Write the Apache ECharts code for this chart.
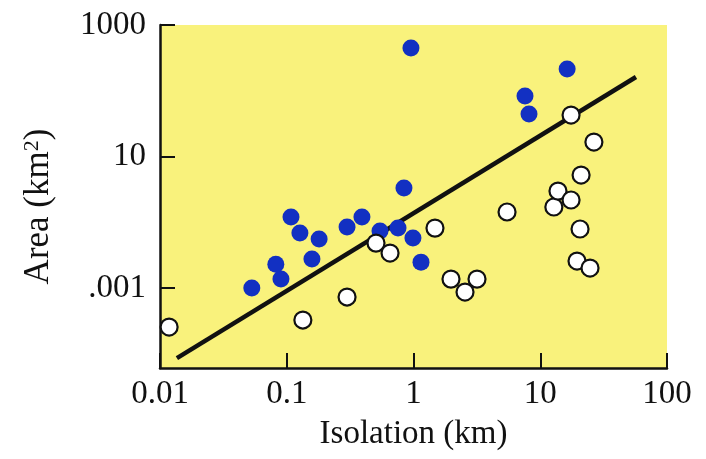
<!DOCTYPE html>
<html>
<head>
<meta charset="utf-8">
<title>Island area vs isolation</title>
<script src="https://cdn.jsdelivr.net/npm/echarts@6/dist/echarts.min.js"></script>
<style>
  html, body { margin: 0; padding: 0; background: #ffffff; }
  #chart { width: 706px; height: 459px; }
</style>
</head>
<body>
<div id="chart"></div>
<script>
// Islands with the species present (filled) — isolation (km) and area (km²)
const occupiedIsolation = [0.053, 0.090, 0.082, 0.108, 0.127, 0.158, 0.180, 0.299, 0.392,
  0.544, 0.755, 0.841, 0.99, 1.146, 0.955, 7.58, 8.15, 16.3];
const occupiedArea = [0.001, 0.0016, 0.0035, 0.0416, 0.018, 0.00458, 0.0131, 0.0246, 0.0416,
  0.020, 0.0233, 0.191, 0.0138, 0.0039, 298, 24.0, 9.31, 99];

// Islands without the species (open)
const emptyIsolation = [0.0118, 0.134, 0.299, 0.506, 0.653, 1.477, 1.976, 2.549, 3.17, 5.47,
  12.8, 13.8, 17.5, 21.0, 26.5, 17.5, 20.6, 19.5, 24.7];
const emptyArea = [0.000129, 0.000186, 0.000622, 0.0106, 0.00628, 0.0233, 0.0016, 0.00081, 0.0016,
  0.0542, 0.0705, 0.163, 0.102, 0.378, 2.14, 8.84, 0.0222, 0.00413, 0.00286];

// Fitted boundary line, end points
const boundaryIsolation = [0.0136, 56.9];
const boundaryArea = [0.0000253, 65.1];

// Axis ticks
const xTickValues = [0.01, 0.1, 1, 10, 100];
const xTickLabels = ['0.01', '0.1', '1', '10', '100'];
const yTickValues = [0.001, 1, 1000];
const yTickLabels = ['.001', '10', '1000'];
const yRange = [0.000015, 1000];

const lg = Math.log10;
const pairs = (xs, ys) => xs.map((x, i) => [x, lg(ys[i])]);

const FONT = '"Liberation Serif", "DejaVu Serif", serif';

const chart = echarts.init(document.getElementById('chart'), null, { renderer: 'canvas' });

chart.setOption({
  backgroundColor: '#ffffff',
  animation: false,
  grid: {
    left: 160, right: 39, top: 25, bottom: 91,
    show: true,
    backgroundColor: '#f9f27c',
    borderWidth: 0
  },
  xAxis: {
    type: 'log',
    logBase: 10,
    min: xTickValues[0],
    max: xTickValues[xTickValues.length - 1],
    name: 'Isolation (km)',
    nameLocation: 'middle',
    nameGap: 50,
    nameTextStyle: { fontFamily: FONT, fontSize: 33, color: '#111' },
    axisLine: { show: true, onZero: false, lineStyle: { color: '#111', width: 2.5 } },
    axisTick: { show: true, inside: true, length: 15, lineStyle: { color: '#111', width: 2 } },
    minorTick: { show: false },
    splitLine: { show: false },
    axisLabel: {
      fontFamily: FONT, fontSize: 33, color: '#111', margin: 10,
      showMinLabel: true, showMaxLabel: true,
      formatter: (v) => {
        const i = xTickValues.findIndex(t => Math.abs(lg(t) - lg(v)) < 1e-6);
        return i >= 0 ? xTickLabels[i] : '';
      }
    }
  },
  yAxis: {
    type: 'value',
    min: lg(yRange[0]),
    max: lg(yRange[1]),
    name: 'Area (km{sup|2})',
    nameLocation: 'middle',
    nameGap: 104,
    nameTextStyle: {
      fontFamily: FONT, fontSize: 35, color: '#111',
      padding: [0, 20, 0, 0],
      rich: {
        sup: { fontFamily: FONT, fontSize: 22, color: '#111', verticalAlign: 'top', lineHeight: 35 }
      }
    },
    axisLine: { show: true, onZero: false, lineStyle: { color: '#111', width: 2.5 } },
    axisTick: {
      show: true, inside: true, length: 15,
      customValues: yTickValues.map(lg),
      lineStyle: { color: '#111', width: 2 }
    },
    splitLine: { show: false },
    axisLabel: {
      fontFamily: FONT, fontSize: 33, color: '#111', margin: 14,
      customValues: yTickValues.map(lg),
      formatter: (v) => {
        const i = yTickValues.findIndex(t => Math.abs(lg(t) - v) < 1e-6);
        return i >= 0 ? yTickLabels[i] : '';
      }
    }
  },
  series: [
    {
      type: 'line',
      data: pairs(boundaryIsolation, boundaryArea),
      symbol: 'none',
      lineStyle: { color: '#111', width: 4.5 },
      z: 1
    },
    {
      type: 'scatter',
      data: pairs(occupiedIsolation, occupiedArea),
      symbol: 'circle',
      symbolSize: 17,
      itemStyle: { color: '#1230c2', borderWidth: 0, opacity: 1 },
      z: 3
    },
    {
      type: 'scatter',
      data: pairs(emptyIsolation, emptyArea),
      symbol: 'circle',
      symbolSize: 17,
      itemStyle: { color: '#ffffff', borderColor: '#111', borderWidth: 2.2, opacity: 1 },
      z: 3
    }
  ]
});
</script>
</body>
</html>
